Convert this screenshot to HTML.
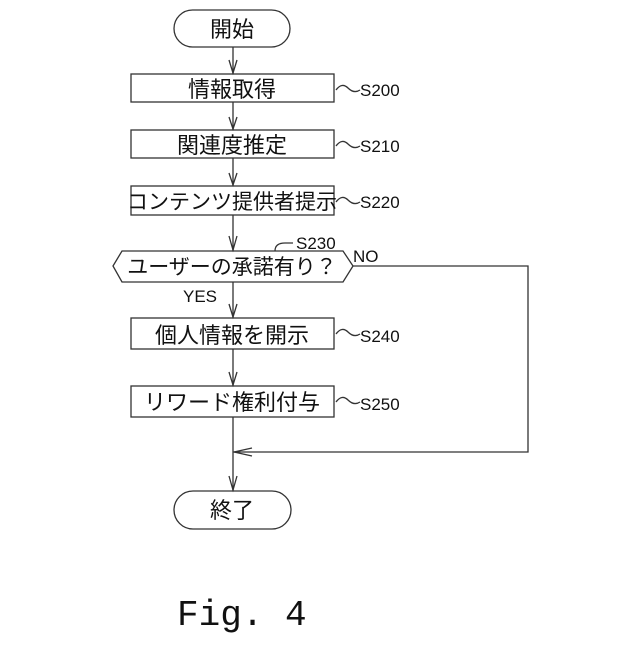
<!DOCTYPE html>
<html><head><meta charset="utf-8"><style>
body{margin:0;background:#fff}
svg text{font-family:"Liberation Sans","Noto Sans CJK JP",sans-serif;fill:#111}
</style></head><body>
<svg width="640" height="640" viewBox="0 0 640 640" xmlns="http://www.w3.org/2000/svg">
<g fill="none" stroke="#333" stroke-width="1.3">
<rect x="174" y="10" width="116" height="37" rx="18.5"/>
<rect x="131" y="74" width="203" height="28"/>
<rect x="131" y="130" width="203" height="28"/>
<rect x="131" y="186" width="203" height="29"/>
<polygon points="113,266 122,251 343,251 353,266 343,282 122,282"/>
<rect x="131" y="318" width="203" height="31"/>
<rect x="131" y="386" width="203" height="31"/>
<rect x="174" y="491" width="117" height="38" rx="19"/>
<line x1="233" y1="47" x2="233" y2="74"/>
<line x1="233" y1="102" x2="233" y2="130"/>
<line x1="233" y1="158" x2="233" y2="186"/>
<line x1="233" y1="215" x2="233" y2="251"/>
<line x1="233" y1="282" x2="233" y2="318"/>
<line x1="233" y1="349" x2="233" y2="386"/>
<line x1="233" y1="417" x2="233" y2="491"/>
<polyline points="353,266 528,266 528,452 233,452"/>
<polyline points="229,60 233,73 237,60"/>
<polyline points="229,117 233,129 237,117"/>
<polyline points="229,173 233,185 237,173"/>
<polyline points="229,236 233,250 237,236"/>
<polyline points="229,304 233,317 237,304"/>
<polyline points="229,372 233,385 237,372"/>
<polyline points="229,476 233,490 237,476"/>
<polyline points="252,448 234,452 252,456"/>
<path d="M336,90 q6,-8 12,-2 t12,2"/>
<path d="M336,146 q6,-8 12,-2 t12,2"/>
<path d="M336,202 q6,-8 12,-2 t12,2"/>
<path d="M336,334 q6,-8 12,-2 t12,2"/>
<path d="M336,402 q6,-8 12,-2 t12,2"/>
<path d="M275,251 q0,-8 10,-8 h8"/>
</g>
<g font-size="22" text-anchor="middle">
<text x="232" y="37">開始</text>
<text x="232" y="97">情報取得</text>
<text x="232" y="153">関連度推定</text>
<text x="232" y="209" font-size="21">コンテンツ提供者提示</text>
<text x="232" y="274" font-size="21">ユーザーの承諾有り？</text>
<text x="232" y="343">個人情報を開示</text>
<text x="232" y="410">リワード権利付与</text>
<text x="232" y="518">終了</text>
</g>
<g font-size="17">
<text x="360" y="96">S200</text>
<text x="360" y="152">S210</text>
<text x="360" y="208">S220</text>
<text x="296" y="249">S230</text>
<text x="353" y="262">NO</text>
<text x="183" y="302">YES</text>
<text x="360" y="342">S240</text>
<text x="360" y="410">S250</text>
</g>
<text x="177" y="625" font-size="36" style="font-family:'Liberation Mono',monospace">Fig. 4</text>
</svg>
</body></html>
